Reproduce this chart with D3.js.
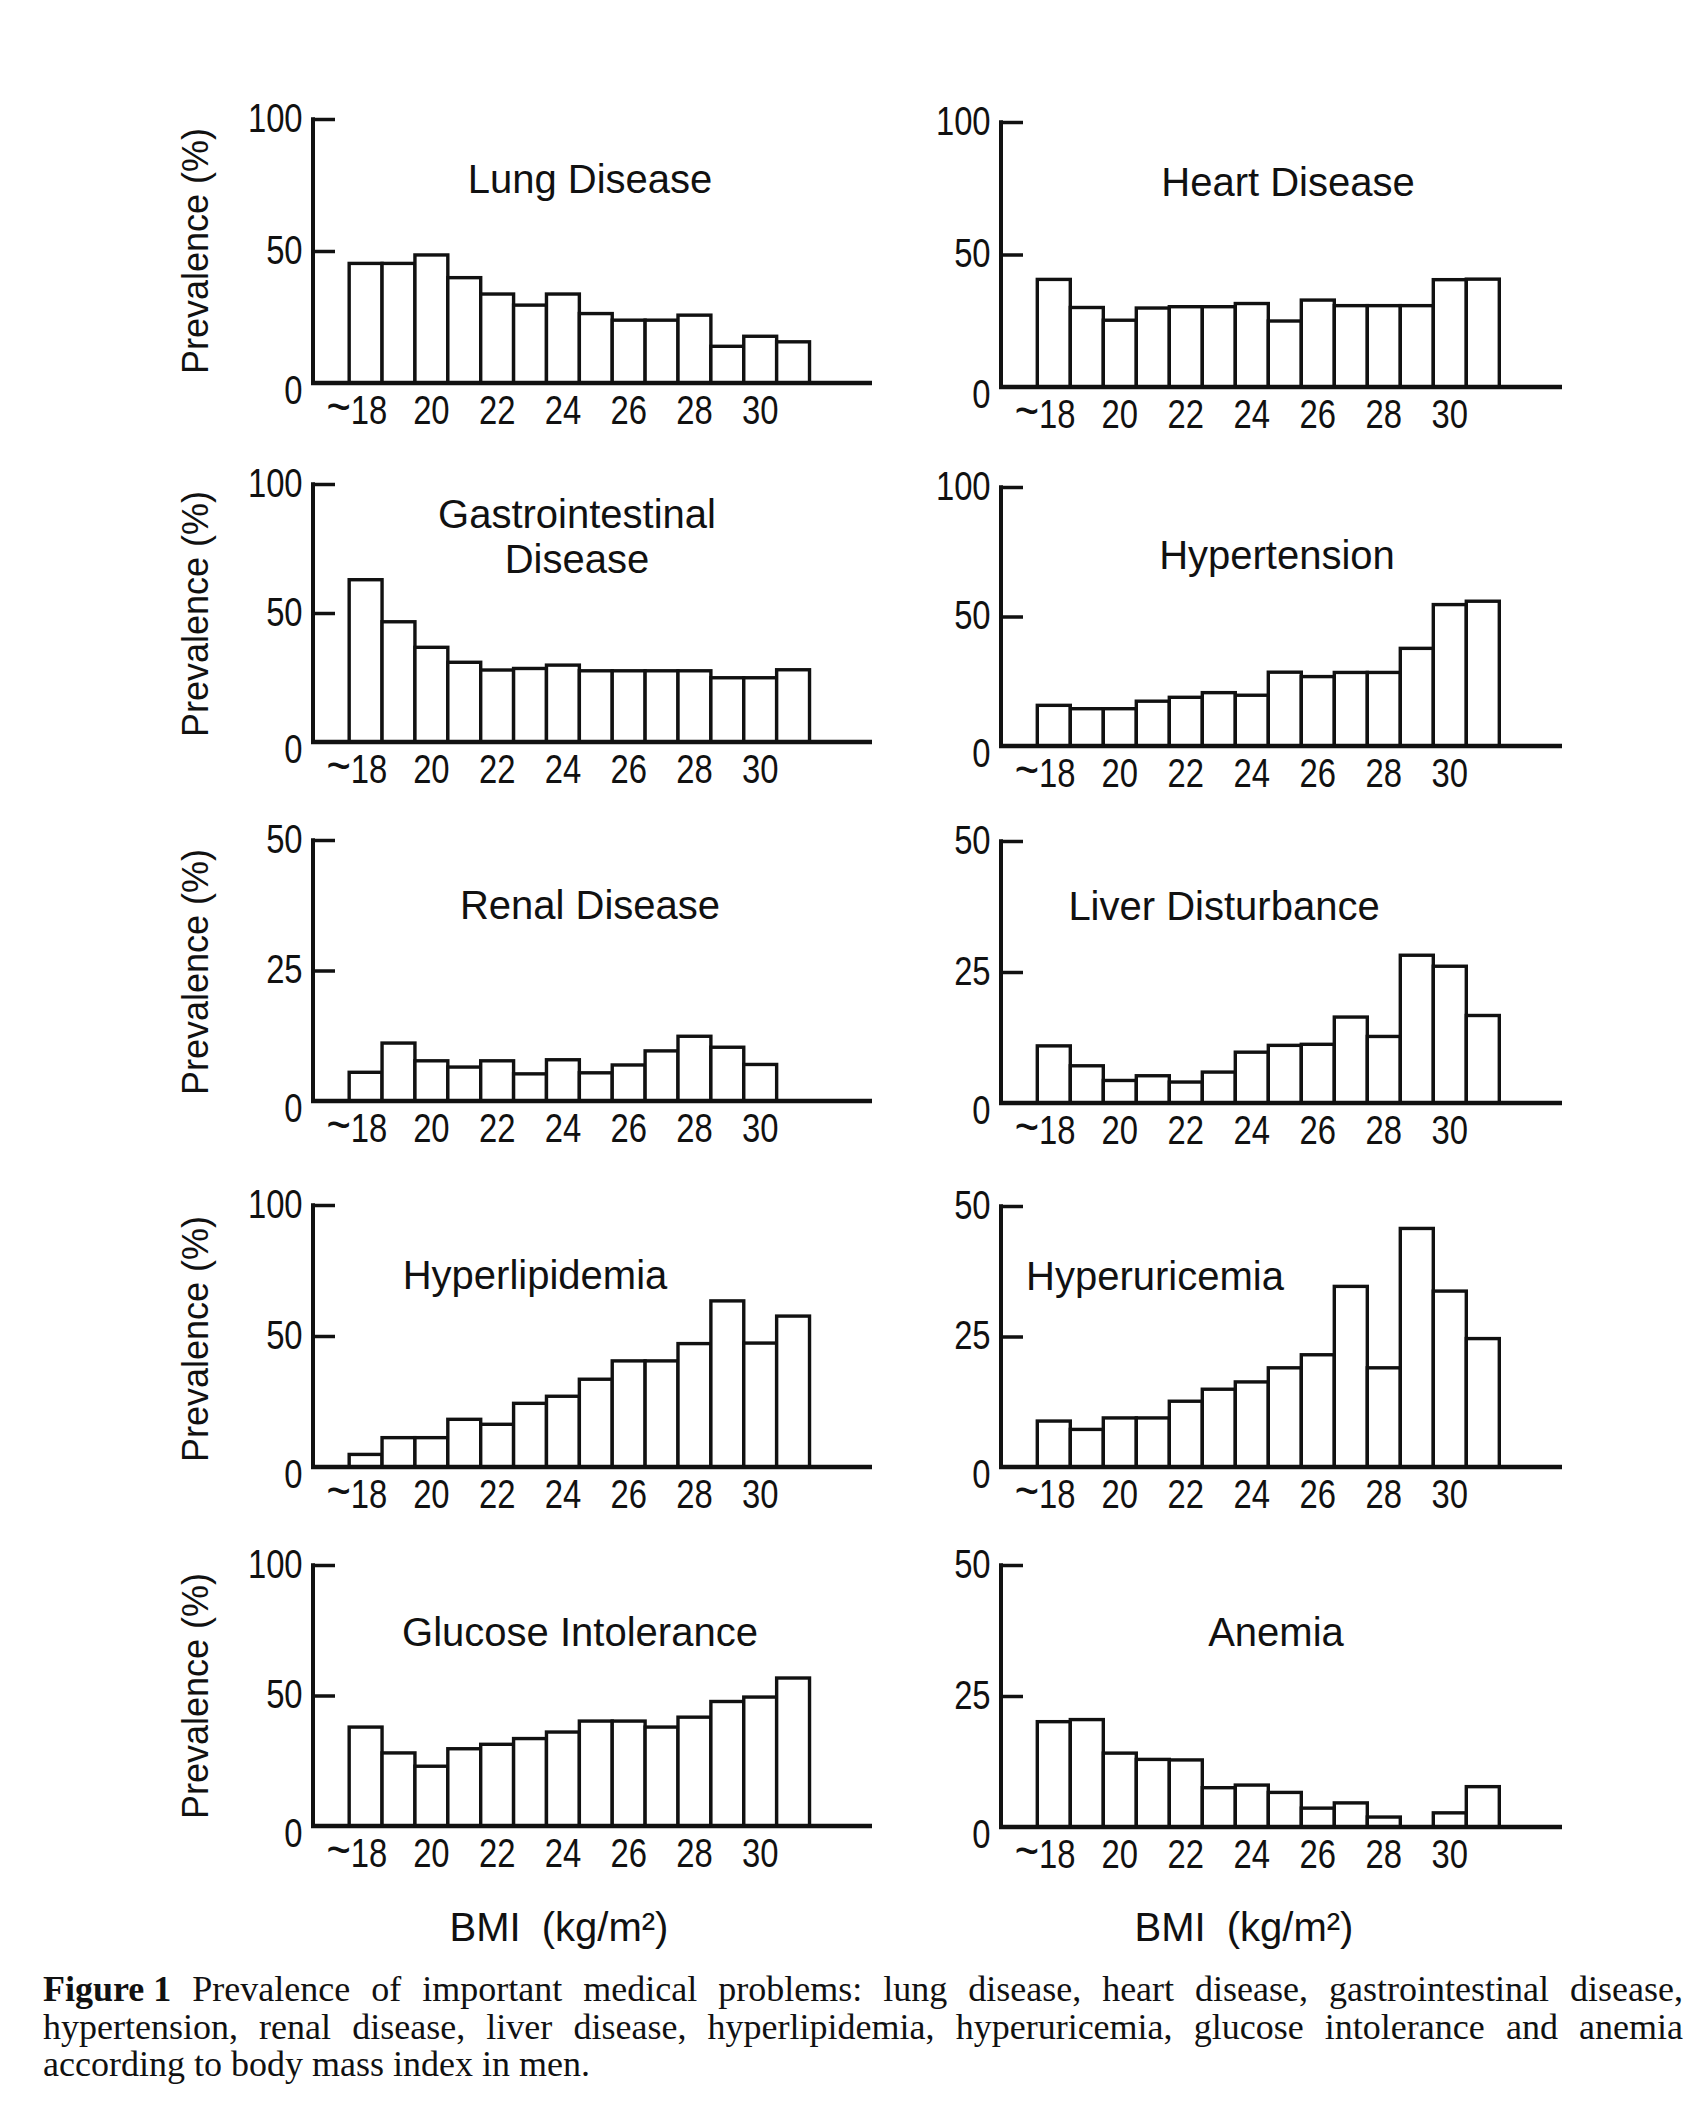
<!DOCTYPE html>
<html><head><meta charset="utf-8">
<script src="https://cdn.jsdelivr.net/npm/d3@7"></script>
<style>
html,body{margin:0;padding:0;background:#fff;}
svg{display:block;}
</style></head><body>
<svg id="chart" width="1692" height="2110"></svg>
<script>
// ---------- DATA ----------
const categories = ["~18","19","20","21","22","23","24","25","26","27","28","29","30","31"];
const xTickLabels = ["~18","20","22","24","26","28","30"];
const yTicks100 = [0, 50, 100];
const yTicks50 = [0, 25, 50];

const lungDisease      = [45.3,45.3,48.5,39.9,33.7,29.5,33.7,26.3,23.8,23.8,25.7,13.9,17.7,15.6];
const heartDisease     = [40.6,30.0,25.2,29.8,30.3,30.3,31.5,24.9,32.8,30.7,30.7,30.7,40.5,40.7];
const gastroDisease    = [62.9,46.6,36.7,30.9,27.9,28.5,29.8,27.6,27.6,27.6,27.6,24.9,24.9,28.0];
const hypertension     = [15.7,14.4,14.4,17.3,18.8,20.6,19.6,28.5,26.8,28.4,28.4,37.7,54.6,55.9];
const renalDisease     = [5.5,11.1,7.7,6.5,7.7,5.2,7.9,5.4,6.9,9.6,12.4,10.3,7.0,0];
const liverDisturbance = [10.9,7.1,4.3,5.2,4.0,5.9,9.7,11.0,11.2,16.4,12.7,28.2,26.1,16.7];
const hyperlipidemia   = [4.8,11.2,11.2,18.2,16.3,24.3,27.0,33.5,40.5,40.5,47.1,63.4,47.3,57.6];
const hyperuricemia    = [8.8,7.2,9.4,9.4,12.6,14.9,16.3,19.0,21.5,34.6,19.0,45.7,33.7,24.6];
const glucoseIntol     = [37.9,28.0,22.9,29.6,31.3,33.5,36.0,40.2,40.2,37.9,41.7,47.7,49.4,56.7];
const anemia           = [20.1,20.5,14.1,12.9,12.8,7.5,8.0,6.6,3.6,4.6,1.9,0,2.7,7.7];

const panelTitles = [
  ["Lung Disease"], ["Heart Disease"],
  ["Gastrointestinal","Disease"], ["Hypertension"],
  ["Renal Disease"], ["Liver Disturbance"],
  ["Hyperlipidemia"], ["Hyperuricemia"],
  ["Glucose Intolerance"], ["Anemia"]
];
const panelSeries = [lungDisease, heartDisease, gastroDisease, hypertension, renalDisease,
  liverDisturbance, hyperlipidemia, hyperuricemia, glucoseIntol, anemia];
const panelYMax = [100,100,100,100,50,50,100,50,100,50];

const yAxisLabel = "Prevalence (%)";
const xAxisLabel = "BMI (kg/m²)";
const captionBold = "Figure 1";
const captionLines = [
  "Prevalence of important medical problems: lung disease, heart disease, gastrointestinal disease,",
  "hypertension, renal disease, liver disease, hyperlipidemia, hyperuricemia, glucose intolerance and anemia",
  "according to body mass index in men."
];

// ---------- LAYOUT ----------
const colX0 = [313, 1001];
const colX1 = [872, 1562];
const rowTops = [[119,122],[484,487],[840,841],[1205,1206],[1565,1565]];
const rowZeros = [[383,387],[742,746],[1101,1103],[1467,1467],[1826,1827]];
const titlePos = [[590,179],[1288,182],[577,514],[1277,555],[590,905],[1224,906],[535,1275],[1155,1276],[580,1632],[1276,1632]];
const prevalenceY = [251, 614, 972, 1339, 1696];

const tickFont = '"Liberation Sans","Arial",sans-serif';
const labelFont = '"Liberation Sans","DejaVu Sans",sans-serif';
const serifFont = '"Liberation Serif","DejaVu Serif",serif';
const ink = "#111";
const tickScale = "scale(0.8,1)";

const svg = d3.select("#chart");
svg.append("rect").attr("width",1692).attr("height",2110).attr("fill","#fff");

panelSeries.forEach((vals, i) => {
  const col = i % 2, row = Math.floor(i / 2);
  const x0 = colX0[col], x1 = colX1[col];
  const slot = (x1 - x0) / 17;
  const yTop = rowTops[row][col], yZero = rowZeros[row][col];
  const yMax = panelYMax[i];
  const ticks = yMax === 100 ? yTicks100 : yTicks50;

  const x = d3.scaleBand().domain(categories)
    .range([x0 + 1.1 * slot, x0 + 15.1 * slot]).paddingInner(0);
  const y = d3.scaleLinear().domain([0, yMax]).range([yZero, yTop]);

  const g = svg.append("g");

  // bars
  g.selectAll("rect.bar").data(vals.map((v, k) => ({c: categories[k], v})).filter(d => d.v > 0))
    .join("rect").attr("class","bar")
    .attr("x", d => x(d.c)).attr("width", x.bandwidth())
    .attr("y", d => y(d.v)).attr("height", d => y(0) - y(d.v))
    .attr("fill","#fff").attr("stroke", ink).attr("stroke-width", 3.4);

  // y axis
  const yAxis = d3.axisLeft(y).tickValues(ticks).tickSize(-22).tickPadding(13)
    .tickFormat(d3.format("d"));
  const ya = g.append("g").attr("transform", `translate(${x0},0)`).call(yAxis);
  ya.select(".domain").remove();
  ya.selectAll(".tick line").attr("stroke", ink).attr("stroke-width", 3.5)
    .filter(d => d === 0).remove();
  ya.selectAll(".tick text").attr("fill", ink).attr("transform", tickScale)
    .attr("dy", d => d === 0 ? "0.5em" : "0.3em")
    .style("font-family", tickFont).style("font-size", "41px");
  g.append("line").attr("x1", x0).attr("x2", x0).attr("y1", y(0) + 2).attr("y2", y(yMax) - 1.75)
    .attr("stroke", ink).attr("stroke-width", 4);

  // x axis baseline
  g.append("line").attr("x1", x0 - 2).attr("x2", x1).attr("y1", y(0)).attr("y2", y(0))
    .attr("stroke", ink).attr("stroke-width", 4.5);

  // x tick labels
  const xa = g.append("g").attr("transform", `translate(0,${y(0)})`)
    .call(d3.axisBottom(x).tickValues(xTickLabels).tickSize(0).tickPadding(12));
  xa.select(".domain").remove();
  xa.selectAll(".tick text").attr("fill", ink).attr("transform", tickScale)
    .style("font-family", tickFont).style("font-size", "41px")
    .each(function(d) {
      if (!d.startsWith("~")) return;
      const sel = d3.select(this);
      sel.text(null).attr("text-anchor", "end").attr("x", 27);
      sel.append("tspan").style("font-size", "52px").text("~");
      sel.append("tspan").text(d.slice(1));
    });

  // title
  const [tx, ty] = titlePos[i];
  const t = g.append("text").attr("text-anchor","middle").attr("fill", ink)
    .style("font-family", labelFont).style("font-size","40px");
  panelTitles[i].forEach((line, li) => {
    t.append("tspan").attr("x", tx).attr("y", ty + li * 45).attr("dy","0.35em").text(line);
  });

  // y label (left column only)
  if (col === 0) {
    g.append("text").attr("transform", `translate(195,${prevalenceY[row]}) rotate(-90)`)
      .attr("text-anchor","middle").attr("dy","0.35em").attr("fill", ink)
      .style("font-family", labelFont).style("font-size","36px").text(yAxisLabel);
  }
});

// BMI labels
[[559,1927],[1244,1927]].forEach(([bx, by]) => {
  svg.append("text").attr("x", bx).attr("y", by).attr("dy","0.35em")
    .attr("text-anchor","middle").attr("fill", ink)
    .style("font-family", labelFont).style("font-size","40px")
    .style("word-spacing","10px").text(xAxisLabel);
});

// caption, justified
const capLeft = 43, capRight = 1683, capFont = 36;
const capBase = [2001, 2039, 2076];
captionLines.forEach((line, li) => {
  const words = [];
  if (li === 0) words.push({w: captionBold, bold: true});
  line.split(" ").forEach(w => words.push({w, bold: false}));
  const tg = svg.append("g");
  const nodes = words.map(wd => tg.append("text").attr("y", capBase[li]).attr("fill", ink)
      .style("font-family", serifFont).style("font-size", capFont + "px")
      .style("font-weight", wd.bold ? "bold" : "normal").text(wd.w));
  const widths = nodes.map(n => n.node().getComputedTextLength());
  const total = d3.sum(widths);
  const justify = li < captionLines.length - 1;
  const gap = justify ? (capRight - capLeft - total) / (words.length - 1) : capFont * 0.25;
  let cx = capLeft;
  nodes.forEach((n, k) => { n.attr("x", cx); cx += widths[k] + gap; });
});
</script>
</body></html>
